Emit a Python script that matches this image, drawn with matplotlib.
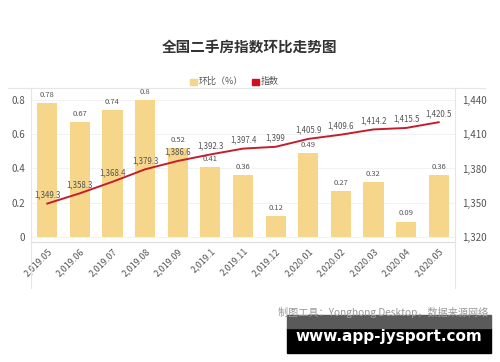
import matplotlib
matplotlib.use("Agg")
import matplotlib.pyplot as plt
from matplotlib.patches import Rectangle
from matplotlib.lines import Line2D

plt.rcParams['font.family'] = ['Noto Sans CJK SC', 'DejaVu Sans']

months = ["2,019.05", "2,019.06", "2,019.07", "2,019.08", "2,019.09", "2,019.1",
          "2,019.11", "2,019.12", "2,020.01", "2,020.02", "2,020.03", "2,020.04",
          "2,020.05"]
mom = [0.78, 0.67, 0.74, 0.8, 0.52, 0.41, 0.36, 0.12, 0.49, 0.27, 0.32, 0.09, 0.36]
index = [1349.3, 1358.3, 1368.4, 1379.3, 1386.6, 1392.3, 1397.4, 1399, 1405.9,
         1409.6, 1414.2, 1415.5, 1420.5]
index_labels = ["1,349.3", "1,358.3", "1,368.4", "1,379.3", "1,386.6", "1,392.3",
                "1,397.4", "1,399", "1,405.9", "1,409.6", "1,414.2", "1,415.5", "1,420.5"]
left_ticks = [0, 0.2, 0.4, 0.6, 0.8]
right_ticks = [1320, 1350, 1380, 1410, 1440]

BAR = "#F5D68A"
LINE = "#C41E2E"
TXT = "#555555"

fig = plt.figure(figsize=(5, 3.62), dpi=100)
ax = fig.add_axes([0.062, 0.331, 0.848, 0.426])
x = list(range(len(months)))

ax.bar(x, mom, width=0.62, color=BAR, zorder=2)
for xi, v in zip(x, mom):
    ax.annotate(f"{v:g}", (xi, v), xytext=(0, 3), textcoords="offset points",
                ha="center", va="bottom", fontsize=5.5, color=TXT)

ax.set_xlim(-0.5, 12.5)
ax.set_ylim(-0.03, 0.87)
ax.set_yticks(left_ticks)
ax.set_yticklabels([f"{t:g}" for t in left_ticks])
ax.set_xticks(x)
ax.set_xticklabels(months, rotation=45, ha="right", rotation_mode="anchor")
ax.tick_params(axis="both", length=0, labelsize=7, colors=TXT, pad=4)
ax.tick_params(axis="x", labelsize=6.5, pad=3)
ax.grid(axis="y", color="#f0f0f0", linewidth=0.6, zorder=0)
for s in ax.spines.values():
    s.set_visible(False)
ax.spines["bottom"].set_visible(True)
ax.spines["bottom"].set_color("#dddddd")

ax2 = ax.twinx()
ax2.set_ylim(1320 - 0.03 * 150, 1320 + 0.87 * 150)
ax2.plot(x, index, color=LINE, linewidth=1.4, zorder=3)
for xi, v, lab in zip(x, index, index_labels):
    ax2.annotate(lab, (xi, v), xytext=(0, 3), textcoords="offset points",
                 ha="center", va="bottom", fontsize=5.7, color=TXT)
ax2.set_yticks(right_ticks)
ax2.set_yticklabels([f"{t:,}" for t in right_ticks])
ax2.tick_params(axis="y", length=0, labelsize=7, colors=TXT, pad=5)
for s in ax2.spines.values():
    s.set_visible(False)

# frame lines
fig.add_artist(Line2D([8 / 500, 485 / 500], [1 - 88 / 362] * 2, color="#e6e6e6", linewidth=0.8))
fig.add_artist(Line2D([31 / 500] * 2, [1 - 88 / 362, 1 - 288 / 362], color="#e6e6e6", linewidth=0.8))
fig.add_artist(Line2D([455 / 500] * 2, [1 - 88 / 362, 1 - 288 / 362], color="#e6e6e6", linewidth=0.8))

fig.text(0.5, 1 - 47 / 362, "全国二手房指数环比走势图", ha="center", va="center",
         fontsize=10.5, fontweight="bold", color="#333333")

# legend
ly = 1 - 81 / 362
fig.add_artist(Rectangle((190 / 500, ly - 0.012), 0.013, 0.018, color=BAR))
fig.text(199 / 500, ly, "环比（%）", ha="left", va="center", fontsize=6.5, color=TXT)
fig.add_artist(Rectangle((252 / 500, ly - 0.012), 0.013, 0.018, color="#D0101E"))
fig.text(261 / 500, ly, "指数", ha="left", va="center", fontsize=6.5, color=TXT)

fig.text(488 / 500, 1 - 312 / 362, "制图工具：Yonghong Desktop，数据来源网络",
         ha="right", va="center", fontsize=7.3, color="#999999")

# watermark box
fig.add_artist(Rectangle((287 / 500, 1 - 353 / 362), 204 / 500, 25 / 362, color="black"))
fig.add_artist(Rectangle((287 / 500, 1 - 328 / 362), 204 / 500, 13 / 362, color="#5a5a5a"))
fig.text(389 / 500, 1 - 336 / 362, "www.app-jysport.com", ha="center", va="center",
         fontsize=11, fontweight="bold", color="white", family="DejaVu Sans")

fig.savefig("out.png", dpi=100)
